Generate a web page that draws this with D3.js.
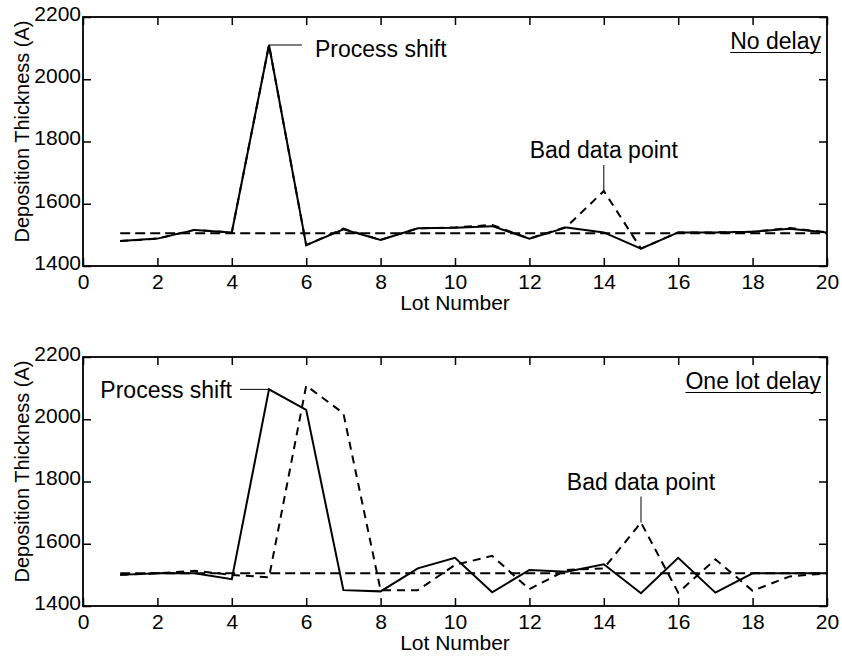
<!DOCTYPE html>
<html>
<head>
<meta charset="utf-8">
<script src="https://cdn.jsdelivr.net/npm/d3@7"></script>
<style>
  body { margin: 0; background: #fff; }
  text { font-family: "Liberation Sans", Arial, Helvetica, sans-serif; fill: #000; }
</style>
</head>
<body>
<script>
/////////////////
/// DATA      ///
/////////////////

var lots = [1, 2, 3, 4, 5, 6, 7, 8, 9, 10, 11, 12, 13, 14, 15, 16, 17, 18, 19, 20];

// no delay panel
var topActual   = [1480, 1488, 1516, 1508, 2110, 1467, 1518, 1484, 1521, 1523,
                   1528, 1488, 1524, 1508, 1456, 1508, 1508, 1510, 1520, 1508];
var topMeasured = [1480, 1488, 1516, 1508, 2110, 1467, 1520, 1484, 1521, 1524,
                   1532, 1488, 1526, 1641, 1456, 1508, 1508, 1510, 1522, 1508];

// one lot delay panel
var botActual   = [1500, 1505, 1505, 1486, 2096, 2030, 1451, 1447, 1521, 1555,
                   1444, 1516, 1510, 1534, 1441, 1555, 1443, 1505, 1505, 1505];
var botMeasured = [1500, 1505, 1513, 1500, 1492, 2108, 2019, 1451, 1451, 1532,
                   1561, 1454, 1516, 1521, 1668, 1443, 1550, 1449, 1495, 1505];

// target line
var targetLots = [1, 20];
var targetValues = [1505, 1505];

var xTicks = [0, 2, 4, 6, 8, 10, 12, 14, 16, 18, 20];
var yTicks = [1400, 1600, 1800, 2000, 2200];

/////////////////
/// SETUP     ///
/////////////////

var svg = d3.select("body").append("svg")
    .attr("width", 842)
    .attr("height", 656);

var margin = {left: 83, right: 15},
    width = 842 - margin.left - margin.right,
    height = 249;

var x = d3.scaleLinear().domain([0, 20]).range([0, width]);
var y = d3.scaleLinear().domain([1400, 2200]).range([height, 0]);

var line = d3.line()
    .x(function(d) { return x(d[0]); })
    .y(function(d) { return y(d[1]); });

function pairs(xs, ys) {
  return xs.map(function(v, i) { return [v, ys[i]]; });
}

// draw one panel
function drawPanel(top, actual, measured, title, shiftLot, shiftSide, badLot) {
  var g = svg.append("g").attr("transform", "translate(" + margin.left + "," + top + ")");

  // axes with inward ticks on all four sides
  g.append("g")
      .attr("transform", "translate(0," + height + ")")
      .call(d3.axisBottom(x).tickValues(xTicks).tickSize(-8).tickPadding(8));
  g.append("g")
      .call(d3.axisTop(x).tickValues(xTicks).tickSize(-8).tickFormat(""));
  var yAxis = g.append("g")
      .call(d3.axisLeft(y).tickValues(yTicks).tickSize(-8).tickPadding(2)
          .tickFormat(d3.format("d")));
  g.append("g")
      .attr("transform", "translate(" + width + ",0)")
      .call(d3.axisRight(y).tickValues(yTicks).tickSize(-8).tickFormat(""));

  g.selectAll(".domain").remove();
  g.selectAll(".tick line").attr("stroke", "#000").attr("stroke-width", 1.5);
  g.selectAll(".tick text")
      .style("font-size", "21px")
      .style("font-family", "'Liberation Sans', Arial, Helvetica, sans-serif")
      .attr("fill", "#000");
  // sit the y labels a little above their ticks, like the original
  yAxis.selectAll(".tick text").attr("dy", "0.16em");

  g.append("rect")
      .attr("width", width)
      .attr("height", height)
      .attr("fill", "none")
      .attr("stroke", "#000")
      .attr("stroke-width", 1.8);

  // series
  g.append("path")
      .datum(pairs(targetLots, targetValues))
      .attr("d", line)
      .attr("fill", "none")
      .attr("stroke", "#000")
      .attr("stroke-width", 2)
      .attr("stroke-dasharray", "10,5");

  g.append("path")
      .datum(pairs(lots, measured))
      .attr("d", line)
      .attr("fill", "none")
      .attr("stroke", "#000")
      .attr("stroke-width", 2)
      .attr("stroke-dasharray", "8,6");

  g.append("path")
      .datum(pairs(lots, actual))
      .attr("d", line)
      .attr("fill", "none")
      .attr("stroke", "#000")
      .attr("stroke-width", 2);

  // axis labels
  g.append("text")
      .attr("x", x(10))
      .attr("y", height + 44)
      .attr("text-anchor", "middle")
      .style("font-size", "21px")
      .text("Lot Number");

  g.append("text")
      .attr("transform", "rotate(-90)")
      .attr("x", -(height / 2 - 10))
      .attr("y", 22 - margin.left)
      .attr("dy", "0.35em")
      .attr("text-anchor", "middle")
      .style("font-size", "20px")
      .text("Deposition Thickness (A)");

  // title, underlined
  var t = g.append("text")
      .attr("x", width - 6)
      .attr("y", 32)
      .attr("text-anchor", "end")
      .style("font-size", "23px")
      .text(title);
  var tw = t.node().getComputedTextLength();
  g.append("line")
      .attr("x1", width - 6 - tw).attr("x2", width - 6)
      .attr("y1", 35.5).attr("y2", 35.5)
      .attr("stroke", "#000").attr("stroke-width", 1.2);

  // process shift annotation
  var px = x(lots[shiftLot - 1]), py = y(actual[shiftLot - 1]);
  if (shiftSide > 0) {
    g.append("line").attr("x1", px).attr("x2", px + 33).attr("y1", py).attr("y2", py)
        .attr("stroke", "#000").attr("stroke-width", 1);
    g.append("text").attr("x", px + 46).attr("y", py + 12)
        .style("font-size", "23px").text("Process shift");
  } else {
    g.append("line").attr("x1", px - 29).attr("x2", px).attr("y1", py).attr("y2", py)
        .attr("stroke", "#000").attr("stroke-width", 1);
    g.append("text").attr("x", px - 37).attr("y", py + 9)
        .attr("text-anchor", "end")
        .style("font-size", "23px").text("Process shift");
  }

  // bad data point annotation
  var bx = x(lots[badLot - 1]), by = y(measured[badLot - 1]);
  g.append("line").attr("x1", bx).attr("x2", bx).attr("y1", by - 26).attr("y2", by)
      .attr("stroke", "#000").attr("stroke-width", 1);
  g.append("text").attr("x", bx).attr("y", by - 33)
      .attr("text-anchor", "middle")
      .style("font-size", "23px").text("Bad data point");
}

drawPanel(17, topActual, topMeasured, "No delay", 5, 1, 14);
drawPanel(357, botActual, botMeasured, "One lot delay", 5, -1, 15);
</script>
</body>
</html>
